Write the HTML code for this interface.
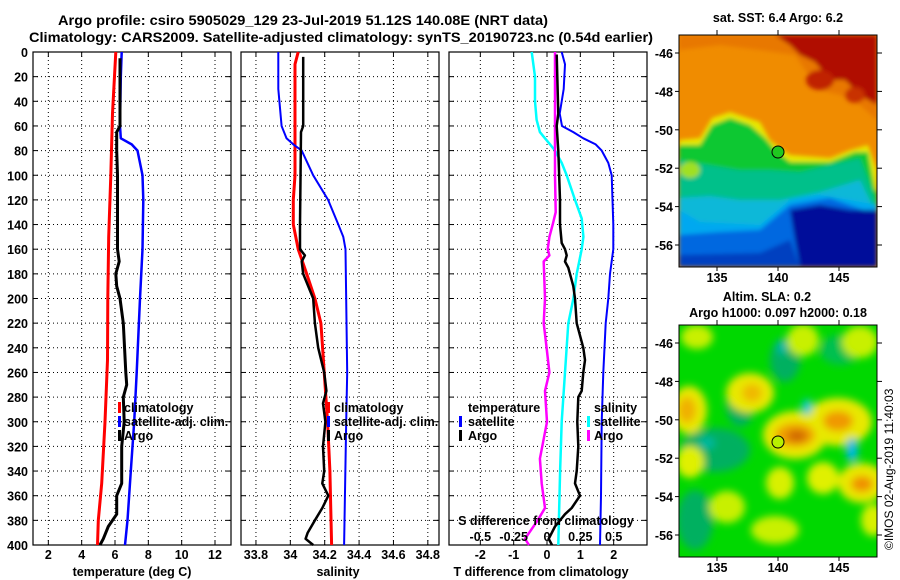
<!DOCTYPE html>
<html><head><meta charset="utf-8"><style>
html,body{margin:0;padding:0;background:#fff;}
svg{display:block;font-family:"Liberation Sans",sans-serif;font-weight:bold;}
</style></head><body>
<svg id="fig" width="900" height="580" viewBox="0 0 900 580" xmlns="http://www.w3.org/2000/svg">
<defs>
<filter id="blur4" x="-20%" y="-20%" width="140%" height="140%"><feGaussianBlur stdDeviation="4"/></filter>
<filter id="blur2"><feGaussianBlur stdDeviation="2"/></filter>
<clipPath id="mapclip1"><rect x="679" y="35" width="198" height="232"/></clipPath>
<clipPath id="mapclip2"><rect x="679" y="325" width="198" height="232"/></clipPath>
</defs>
<text x="58" y="25" font-size="14" textLength="490" lengthAdjust="spacingAndGlyphs">Argo profile: csiro 5905029_129 23-Jul-2019 51.12S 140.08E (NRT data)</text>
<text x="29" y="42" font-size="14" textLength="624" lengthAdjust="spacingAndGlyphs">Climatology: CARS2009. Satellite-adjusted climatology: synTS_20190723.nc (0.54d earlier)</text>

<g id="map1" clip-path="url(#mapclip1)">
<rect x="679" y="35" width="198" height="232" fill="#f08c00"/>
<g filter="url(#blur2)">
<path d="M679 35 H877 V120 L860 105 L840 95 L820 90 L805 70 L795 55 L760 50 L720 45 L679 50Z" fill="#e87800"/>
<path d="M775 35 H877 V105 L860 95 L845 80 L830 80 L815 62 L800 55 L790 45Z" fill="#b00800"/>
<ellipse cx="820" cy="80" rx="14" ry="10" fill="#c02000"/>
<ellipse cx="855" cy="95" rx="10" ry="8" fill="#c83000"/>
<path d="M679 140 L700 138 L712 118 L730 112 L760 122 L770 140 L780 148 L790 155 L830 158 L850 150 L868 145 L877 170 V267 H679Z" fill="#e8e800"/>
<path d="M679 145 L700 145 L712 125 L730 118 L750 125 L765 138 L775 150 L790 162 L830 162 L855 152 L868 152 L875 190 L877 190 V267 H679Z" fill="#10c830"/>
<path d="M679 160 L740 170 L770 170 L800 172 L860 158 L872 190 L877 205 V267 H679Z" fill="#00c08a"/>
<path d="M679 198 L710 196 L740 200 L780 200 L820 192 L860 180 L872 205 L877 210 V267 H679Z" fill="#10b8d8"/>
<path d="M679 210 L700 222 L760 225 L790 200 L820 195 L850 200 L877 205 V267 H679Z" fill="#00a8f0"/>
<path d="M679 235 L720 232 L760 230 L790 205 L830 198 L877 215 V267 H679Z" fill="#0068e0"/>
<path d="M790 210 L820 205 L850 210 L877 210 V267 H800 L795 240Z" fill="#000c9a"/>
<path d="M679 255 L760 253 L790 240 L800 267 H679Z" fill="#0040c0"/>
<ellipse cx="690" cy="170" rx="10" ry="8" fill="#a0e020"/>
</g>
</g>
<rect x="679" y="35" width="198" height="232" fill="none" stroke="#000" stroke-width="1"/>
<circle cx="778" cy="152" r="6" fill="#20c820" stroke="#000" stroke-width="1"/>
<text x="778" y="22" font-size="12.5" text-anchor="middle">sat. SST: 6.4 Argo: 6.2</text>

<g id="map2" clip-path="url(#mapclip2)">
<rect x="679" y="325" width="198" height="232" fill="#00d800"/>
<g filter="url(#blur4)">
<ellipse cx="715" cy="450" rx="35" ry="22" fill="#00b060"/>
<ellipse cx="785" cy="360" rx="15" ry="22" fill="#00b060"/>
<ellipse cx="695" cy="520" rx="18" ry="30" fill="#00b060"/>
<ellipse cx="740" cy="405" rx="14" ry="22" fill="#00b060"/>
<ellipse cx="840" cy="350" rx="20" ry="15" fill="#00c050"/>
<ellipse cx="697" cy="337" rx="16" ry="12" fill="#c8f000"/>
<ellipse cx="803" cy="340" rx="16" ry="16" fill="#c8f000"/>
<ellipse cx="860" cy="342" rx="18" ry="16" fill="#c8f000"/>
<ellipse cx="689" cy="410" rx="18" ry="24" fill="#e8e800"/>
<ellipse cx="750" cy="393" rx="24" ry="20" fill="#e8e800"/>
<ellipse cx="795" cy="435" rx="32" ry="24" fill="#e8e800"/>
<ellipse cx="838" cy="422" rx="34" ry="24" fill="#e8e800"/>
<ellipse cx="862" cy="483" rx="24" ry="20" fill="#e8e800"/>
<ellipse cx="690" cy="462" rx="14" ry="16" fill="#e0f000"/>
<ellipse cx="823" cy="478" rx="16" ry="16" fill="#e0f000"/>
<ellipse cx="780" cy="483" rx="14" ry="16" fill="#d8f000"/>
<ellipse cx="873" cy="520" rx="12" ry="16" fill="#d8f000"/>
<ellipse cx="727" cy="507" rx="18" ry="16" fill="#c8f000"/>
<ellipse cx="775" cy="530" rx="24" ry="14" fill="#c8f000"/>
<ellipse cx="687" cy="410" rx="9" ry="13" fill="#f0b000"/>
<ellipse cx="752" cy="393" rx="10" ry="9" fill="#f0b800"/>
<ellipse cx="795" cy="435" rx="20" ry="12" fill="#f0a000"/>
<ellipse cx="797" cy="436" rx="10" ry="6" fill="#d06800"/>
<ellipse cx="838" cy="421" rx="15" ry="10" fill="#f09800"/>
<ellipse cx="862" cy="484" rx="11" ry="8" fill="#f09000"/>
<ellipse cx="807" cy="407" rx="5" ry="8" fill="#00c8d8"/>
<ellipse cx="852" cy="450" rx="6" ry="12" fill="#00b8e8"/>
<ellipse cx="782" cy="347" rx="5" ry="7" fill="#00b8a8"/>
<ellipse cx="707" cy="443" rx="8" ry="6" fill="#00b8a0"/>
</g>
</g>
<rect x="679" y="325" width="198" height="232" fill="none" stroke="#000" stroke-width="1"/>
<circle cx="778" cy="442" r="6" fill="#b8f000" stroke="#000" stroke-width="1"/>
<text x="767" y="301" font-size="12.5" text-anchor="middle">Altim. SLA: 0.2</text>
<text x="778" y="317" font-size="12.5" text-anchor="middle">Argo h1000: 0.097 h2000: 0.18</text>
<text transform="translate(893,550) rotate(-90)" font-size="12" font-weight="normal">©IMOS 02-Aug-2019 11:40:03</text>
<g id="plots"></g>
</svg>
<script>
// ---- Data (depth in m) ----
const depthGrid = [0,20,40,60,80,100,120,140,160,180,200,220,240,260,280,300,320,340,360,380,400];
const tempDepth = [0,50,100,150,200,250,300,350,380,400];
const tempClim = [6.05,5.85,5.75,5.62,5.57,5.55,5.4,5.2,5.0,4.95];
const tempSatDepth = [0,20,60,70,75,80,100,120,160,200,260,300,340,380,400];
const tempSat = [6.4,6.35,6.3,6.35,7.0,7.35,7.65,7.7,7.65,7.5,7.3,7.15,6.95,6.75,6.6];
const tempArgoDepth = [5,60,65,80,100,160,170,180,190,200,220,260,270,280,300,320,350,360,375,385,395,400];
const tempArgo = [6.3,6.3,6.1,6.1,6.15,6.15,6.25,6.05,6.1,6.3,6.5,6.65,6.7,6.5,6.55,6.4,6.4,6.1,6.1,5.6,5.3,5.1];

const salClimDepth = [0,10,100,120,140,160,180,200,220,240,260,300,340,400];
const salClim = [34.046,34.027,34.027,34.017,34.017,34.046,34.095,34.143,34.178,34.188,34.197,34.217,34.23,34.24];
const salSatDepth = [0,30,60,70,75,80,100,120,140,150,160,260,300,400];
const salSat = [33.93,33.93,33.949,33.978,34.017,34.066,34.133,34.22,34.279,34.308,34.321,34.331,34.325,34.313];
const salArgoDepth = [4,60,65,140,160,165,170,180,200,220,240,260,275,285,300,320,340,350,360,370,380,390,395,400];
const salArgo = [34.075,34.075,34.062,34.056,34.056,34.085,34.066,34.075,34.133,34.143,34.162,34.197,34.21,34.19,34.204,34.19,34.197,34.186,34.221,34.186,34.143,34.101,34.089,34.133];

const dTSatDepth = [0,10,30,50,60,65,70,75,80,90,100,140,160,180,200,220,260,300,360,400];
const dTSat = [0.44,0.54,0.5,0.38,0.45,0.79,1.09,1.46,1.64,1.84,1.94,1.99,1.99,1.89,1.84,1.76,1.69,1.64,1.62,1.59];
const dTArgoDepth = [2,50,60,80,120,140,155,160,165,170,175,190,200,220,240,250,260,275,280,300,320,340,350,360,370,375,385,395,400];
const dTArgo = [0.29,0.34,0.29,0.34,0.39,0.39,0.44,0.54,0.59,0.54,0.64,0.79,0.84,0.89,1.09,1.14,1.09,1.04,0.94,0.91,0.94,0.89,0.84,0.99,0.74,0.54,0.24,0.05,0.15];
const dSSatDepth = [0,20,40,55,65,70,75,80,90,100,120,135,150,160,180,200,220,260,300,340,400];
const dSSat = [-0.115,-0.09,-0.09,-0.078,-0.053,-0.015,0.023,0.06,0.11,0.148,0.21,0.26,0.273,0.26,0.223,0.198,0.16,0.135,0.11,0.098,0.085];
const dSArgoDepth = [0,50,100,130,140,150,160,165,170,200,220,240,260,275,300,330,350,370,380,395,400];
const dSArgo = [0.06,0.06,0.06,0.065,0.043,0.018,0.005,0.018,-0.025,-0.015,-0.025,-0.003,0.018,-0.015,0,-0.053,-0.04,-0.015,-0.07,-0.165,-0.135];

const tempTicks = [2,4,6,8,10,12];
const salTicks = [33.8,34,34.2,34.4,34.6,34.8];
const salTickLabels = ["33.8","34","34.2","34.4","34.6","34.8"];
const dTTicks = [-2,-1,0,1,2];
const dSTicks = [-0.5,-0.25,0,0.25,0.5];
const dSTickLabels = ["-0.5","-0.25","0","0.25","0.5"];
const latTicks = [-46,-48,-50,-52,-54,-56];
const lonTicks = [135,140,145];

// ---- helpers ----
const NS = "http://www.w3.org/2000/svg";
const root = document.getElementById('plots');
function mk(tag, attrs, parent){ const e=document.createElementNS(NS,tag); for(const k in attrs) e.setAttribute(k,attrs[k]); (parent||root).appendChild(e); return e; }
const Y0=52, Y1=545;
function yD(d){ return Y0 + d/400*(Y1-Y0); }
function xScale(x0,x1,v0,v1){ return v=>x0+(v-v0)/(v1-v0)*(x1-x0); }

const panels = [
  {x0:33,x1:231,v0:1.08,v1:12.96,name:'temperature-panel'},
  {x0:241,x1:439,v0:33.713,v1:34.865,name:'salinity-panel'},
  {x0:449,x1:647,v0:-2.94,v1:3.0,name:'difference-panel'}
];
panels.forEach(p=>p.sx=xScale(p.x0,p.x1,p.v0,p.v1));

function drawGrid(p, ticks, labels, showY){
  const g=mk('g',{});
  
  
  ticks.forEach((t,i)=>{
    const x=p.sx(t);
    mk('line',{x1:x,y1:Y0,x2:x,y2:Y1,stroke:'#000','stroke-width':1,'stroke-dasharray':'1,3'},g);
    mk('line',{x1:x,y1:Y1,x2:x,y2:Y1-5,stroke:'#000'},g);
    mk('line',{x1:x,y1:Y0,x2:x,y2:Y0+5,stroke:'#000'},g);
    const tx=mk('text',{x:x,y:Y1+14,'font-size':12.5,'text-anchor':'middle'},g);
    
    
    tx.textContent=labels?labels[i]:String(t);
  });
  depthGrid.forEach(d=>{
    const y=yD(d);
    if(d>0&&d<400) mk('line',{x1:p.x0,y1:y,x2:p.x1,y2:y,stroke:'#000','stroke-width':1,'stroke-dasharray':'1,3'},g);
    mk('line',{x1:p.x0,y1:y,x2:p.x0+5,y2:y,stroke:'#000'},g);
    mk('line',{x1:p.x1,y1:y,x2:p.x1-5,y2:y,stroke:'#000'},g);
    if(showY){
      const tx=mk('text',{x:28,y:y+5,'font-size':12.5,'text-anchor':'end'},g);
      
      
      tx.textContent=String(d);
    }
  });
  mk('rect',{x:p.x0,y:Y0,width:p.x1-p.x0,height:Y1-Y0,fill:'none',stroke:'#000','stroke-width':1.2},g);
}
function drawLine(p, depths, vals, color, w, name, scale){
  const s=scale||1;
  const pts=depths.map((d,i)=>p.sx(vals[i]*s).toFixed(1)+','+yD(d).toFixed(1)).join(' ');
  const l=mk('polyline',{points:pts,fill:'none',stroke:color,'stroke-width':w,'stroke-linejoin':'round'});
  
  
}
function label(x,y,txt,name,anchor){
  const t=mk('text',{x:x,y:y,'font-size':12.5,'text-anchor':anchor||'start'});
  
  
  t.textContent=txt;
}
function swatch(x,y,color,name){
  const r=mk('rect',{x:x,y:y,width:3,height:11,fill:color});
  
  
}

// panel 1
drawGrid(panels[0], tempTicks, null, true);
drawLine(panels[0], tempDepth, tempClim, '#ff0000', 3, 'temperature-climatology-line');
drawLine(panels[0], tempSatDepth, tempSat, '#0000ff', 2.5, 'temperature-satellite-line');
drawLine(panels[0], tempArgoDepth, tempArgo, '#000000', 3, 'temperature-argo-line');
label(132,576,'temperature (deg C)','x-axis-title-temperature','middle');
swatch(118,402,'#ff0000','legend-swatch-climatology'); label(124,412,'climatology','legend-climatology');
swatch(118,416,'#0000ff','legend-swatch-satellite'); label(124,426,'satellite-adj. clim.','legend-satellite-adj');
swatch(118,430,'#000000','legend-swatch-argo'); label(124,440,'Argo','legend-argo');

// panel 2
drawGrid(panels[1], salTicks, salTickLabels, false);
drawLine(panels[1], salClimDepth, salClim, '#ff0000', 3, 'salinity-climatology-line');
drawLine(panels[1], salSatDepth, salSat, '#0000ff', 2, 'salinity-satellite-line');
drawLine(panels[1], salArgoDepth, salArgo, '#000000', 2.5, 'salinity-argo-line');
label(338,576,'salinity','x-axis-title-salinity','middle');
swatch(327,402,'#ff0000','legend-swatch-climatology-2'); label(334,412,'climatology','legend-climatology-2');
swatch(327,416,'#0000ff','legend-swatch-satellite-2'); label(334,426,'satellite-adj. clim.','legend-satellite-adj-2');
swatch(327,430,'#000000','legend-swatch-argo-2'); label(334,440,'Argo','legend-argo-2');

// panel 3
drawGrid(panels[2], dTTicks, null, false);
drawLine(panels[2], dSSatDepth, dSSat, '#00ffff', 2.5, 'salinity-diff-satellite-line', 4);
drawLine(panels[2], dSArgoDepth, dSArgo, '#ff00ff', 2.5, 'salinity-diff-argo-line', 4);
drawLine(panels[2], dTSatDepth, dTSat, '#0000ff', 2, 'temperature-diff-satellite-line');
drawLine(panels[2], dTArgoDepth, dTArgo, '#000000', 2.5, 'temperature-diff-argo-line');
label(541,576,'T difference from climatology','x-axis-title-t-diff','middle');
label(546,525,'S difference from climatology','s-diff-axis-title','middle');
dSTicks.forEach((s,i)=>label(panels[2].sx(s*4),541,dSTickLabels[i],'s-diff-tick-label','middle'));
label(468,412,'temperature','legend-temperature-header');
swatch(459,416,'#0000ff','legend-swatch-t-satellite'); label(468,426,'satellite','legend-t-satellite');
swatch(459,430,'#000000','legend-swatch-t-argo'); label(468,440,'Argo','legend-t-argo');
label(594,412,'salinity','legend-salinity-header');
swatch(587,416,'#00ffff','legend-swatch-s-satellite'); label(594,426,'satellite','legend-s-satellite');
swatch(587,430,'#ff00ff','legend-swatch-s-argo'); label(594,440,'Argo','legend-s-argo');

// map axes
function mapAxes(top, bottom, name){
  const latY = lat => (top===35?53:343) + (-46-lat)*19.2;
  const lonX = lon => 717 + (lon-135)*12.2;
  latTicks.forEach(l=>{
    const y=latY(l);
    mk('line',{x1:877,y1:y,x2:882,y2:y,stroke:'#000'});
    mk('line',{x1:679,y1:y,x2:675,y2:y,stroke:'#000'});
    label(673,y+5,String(l),name+'-lat-label','end');
  });
  lonTicks.forEach(l=>{
    const x=lonX(l);
    mk('line',{x1:x,y1:top,x2:x,y2:top-5,stroke:'#000'});
    mk('line',{x1:x,y1:bottom,x2:x,y2:bottom+4,stroke:'#000'});
    label(x,bottom+15,String(l),name+'-lon-label','middle');
  });
}
mapAxes(35,267,'sst-map');
mapAxes(325,557,'sla-map');
</script>
</body></html>
